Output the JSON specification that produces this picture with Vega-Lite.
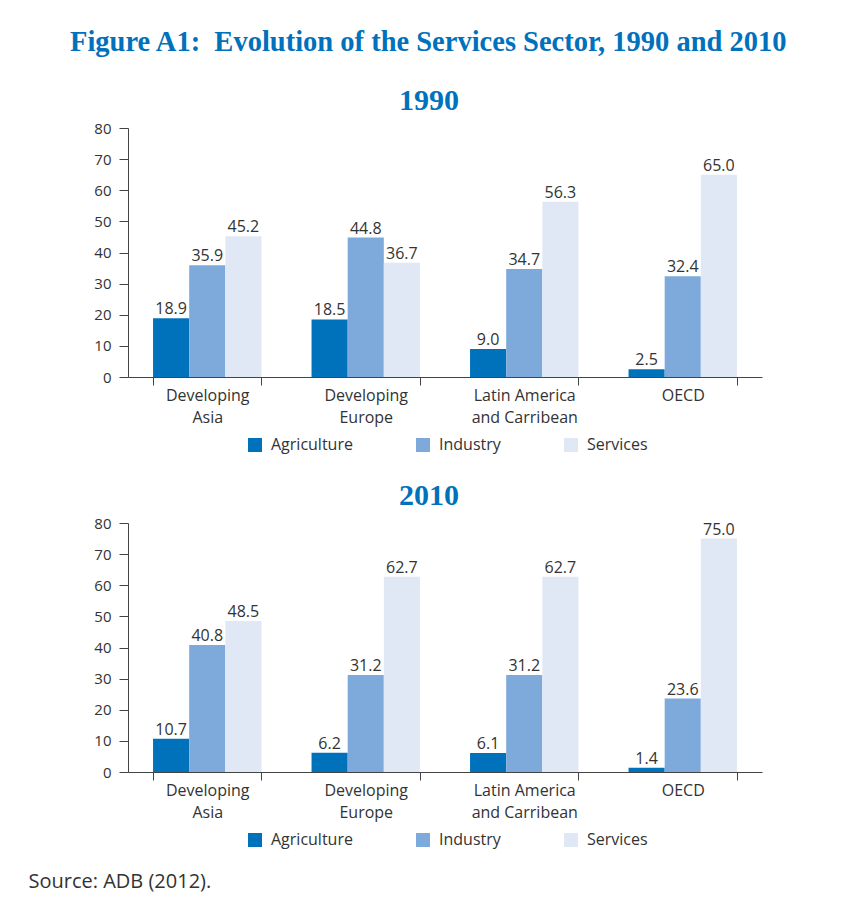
{
  "$schema": "https://vega.github.io/schema/vega-lite/v6.json",
  "background": "white",
  "padding": {"left": 28, "top": 27, "right": 20, "bottom": 10},
  "title": {
    "text": "Figure A1:\u00a0 Evolution of the Services Sector, 1990 and 2010",
    "font": "Liberation Serif",
    "fontSize": 28.5,
    "fontWeight": "bold",
    "color": "#0071bc",
    "anchor": "middle",
    "offset": 30,
    "dx": 33
  },
  "datasets": {
    "sectors": [
      {"year": 1990, "region": "Developing Asia", "sector": "Agriculture", "value": 18.9},
      {"year": 1990, "region": "Developing Asia", "sector": "Industry", "value": 35.9},
      {"year": 1990, "region": "Developing Asia", "sector": "Services", "value": 45.2},
      {"year": 1990, "region": "Developing Europe", "sector": "Agriculture", "value": 18.5},
      {"year": 1990, "region": "Developing Europe", "sector": "Industry", "value": 44.8},
      {"year": 1990, "region": "Developing Europe", "sector": "Services", "value": 36.7},
      {"year": 1990, "region": "Latin America and Carribean", "sector": "Agriculture", "value": 9.0},
      {"year": 1990, "region": "Latin America and Carribean", "sector": "Industry", "value": 34.7},
      {"year": 1990, "region": "Latin America and Carribean", "sector": "Services", "value": 56.3},
      {"year": 1990, "region": "OECD", "sector": "Agriculture", "value": 2.5},
      {"year": 1990, "region": "OECD", "sector": "Industry", "value": 32.4},
      {"year": 1990, "region": "OECD", "sector": "Services", "value": 65.0},
      {"year": 2010, "region": "Developing Asia", "sector": "Agriculture", "value": 10.7},
      {"year": 2010, "region": "Developing Asia", "sector": "Industry", "value": 40.8},
      {"year": 2010, "region": "Developing Asia", "sector": "Services", "value": 48.5},
      {"year": 2010, "region": "Developing Europe", "sector": "Agriculture", "value": 6.2},
      {"year": 2010, "region": "Developing Europe", "sector": "Industry", "value": 31.2},
      {"year": 2010, "region": "Developing Europe", "sector": "Services", "value": 62.7},
      {"year": 2010, "region": "Latin America and Carribean", "sector": "Agriculture", "value": 6.1},
      {"year": 2010, "region": "Latin America and Carribean", "sector": "Industry", "value": 31.2},
      {"year": 2010, "region": "Latin America and Carribean", "sector": "Services", "value": 62.7},
      {"year": 2010, "region": "OECD", "sector": "Agriculture", "value": 1.4},
      {"year": 2010, "region": "OECD", "sector": "Industry", "value": 23.6},
      {"year": 2010, "region": "OECD", "sector": "Services", "value": 75.0}
    ],
    "note": [{"source": "Source: ADB (2012)."}]
  },
  "bounds": "flush",
  "spacing": 146,
  "resolve": {"scale": {"color": "independent"}, "legend": {"color": "independent"}},
  "vconcat": [
    {
      "title": {"text": "1990"},
      "width": 634,
      "height": 249,
      "data": {"name": "sectors"},
      "transform": [{"filter": "datum.year == 1990"}],
      "encoding": {
        "x": {"field": "region", "type": "nominal", "sort": ["Developing Asia", "Developing Europe", "Latin America and Carribean", "OECD"], "scale": {"paddingInner": 0.316, "paddingOuter": 0.158}, "axis": {"title": null, "labelExpr": "isString(datum.value) ? (datum.value == 'Latin America and Carribean' ? ['Latin America', 'and Carribean'] : split(datum.value, ' ')) : ''"}},
        "xOffset": {"field": "sector", "type": "nominal", "sort": ["Agriculture", "Industry", "Services"], "scale": {"paddingInner": 0, "paddingOuter": 0}},
        "y": {"field": "value", "type": "quantitative", "scale": {"domain": [0, 80], "nice": false}, "axis": {"title": null, "values": [0, 10, 20, 30, 40, 50, 60, 70, 80]}}
      },
      "layer": [
        {
          "mark": {"type": "bar"},
          "encoding": {"color": {"field": "sector", "type": "nominal", "sort": ["Agriculture", "Industry", "Services"], "scale": {"domain": ["Agriculture", "Industry", "Services"], "range": ["#0072bc", "#7eaadb", "#e1e8f5"]}, "legend": {"title": null}}}
        },
        {
          "mark": {"type": "text", "baseline": "alphabetic", "dy": -4, "fontSize": 16, "font": "Open Sans", "color": "#333333"},
          "encoding": {"text": {"field": "value", "type": "quantitative", "format": ".1f"}}
        }
      ]
    },
    {
      "title": {"text": "2010"},
      "width": 634,
      "height": 249,
      "data": {"name": "sectors"},
      "transform": [{"filter": "datum.year == 2010"}],
      "encoding": {
        "x": {"field": "region", "type": "nominal", "sort": ["Developing Asia", "Developing Europe", "Latin America and Carribean", "OECD"], "scale": {"paddingInner": 0.316, "paddingOuter": 0.158}, "axis": {"title": null, "labelExpr": "isString(datum.value) ? (datum.value == 'Latin America and Carribean' ? ['Latin America', 'and Carribean'] : split(datum.value, ' ')) : ''"}},
        "xOffset": {"field": "sector", "type": "nominal", "sort": ["Agriculture", "Industry", "Services"], "scale": {"paddingInner": 0, "paddingOuter": 0}},
        "y": {"field": "value", "type": "quantitative", "scale": {"domain": [0, 80], "nice": false}, "axis": {"title": null, "values": [0, 10, 20, 30, 40, 50, 60, 70, 80]}}
      },
      "layer": [
        {
          "mark": {"type": "bar"},
          "encoding": {"color": {"field": "sector", "type": "nominal", "sort": ["Agriculture", "Industry", "Services"], "scale": {"domain": ["Agriculture", "Industry", "Services"], "range": ["#0072bc", "#7eaadb", "#e1e8f5"]}, "legend": {"title": null}}}
        },
        {
          "mark": {"type": "text", "baseline": "alphabetic", "dy": -4, "fontSize": 16, "font": "Open Sans", "color": "#333333"},
          "encoding": {"text": {"field": "value", "type": "quantitative", "format": ".1f"}}
        }
      ]
    },
    {
      "width": 1,
      "height": 10,
      "data": {"name": "note"},
      "mark": {"type": "text", "align": "left", "baseline": "middle", "dx": -100, "dy": -41, "fontSize": 20, "font": "Open Sans", "color": "#333333"},
      "encoding": {"text": {"field": "source", "type": "nominal"}}
    }
  ],
  "config": {
    "view": {"stroke": null},
    "font": "Open Sans",
    "title": {"font": "Liberation Serif", "fontSize": 30, "fontWeight": "bold", "color": "#0071bc", "offset": 5, "dx": -16},
    "axis": {"labelFont": "Open Sans", "labelColor": "#333333", "domainColor": "#444444", "tickColor": "#444444", "grid": false},
    "axisX": {"labelFontSize": 16, "tickSize": 8, "labelPadding": 2, "labelAngle": 0, "tickBand": "extent", "labelLineHeight": 22},
    "axisY": {"labelFontSize": 15, "tickSize": 9, "labelPadding": 8},
    "legend": {"orient": "none", "legendX": 119, "legendY": 309, "direction": "horizontal", "symbolType": "square", "symbolSize": 196, "symbolStrokeWidth": 0, "labelFont": "Open Sans", "labelFontSize": 16, "labelColor": "#333333", "labelOffset": 8, "columnPadding": 62}
  }
}
